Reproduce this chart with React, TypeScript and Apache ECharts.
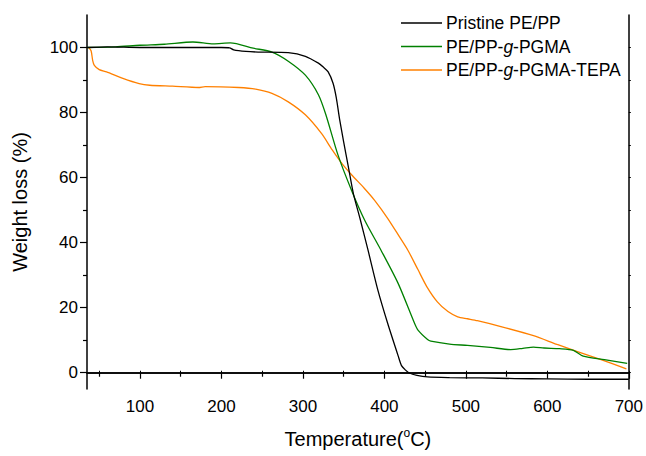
import React, { useEffect, useRef } from "react";
import * as echarts from "echarts";

const FONT = "Liberation Sans, Arial, sans-serif";

const seriesNames = ["Pristine PE/PP", "PE/PP-g-PGMA", "PE/PP-g-PGMA-TEPA"];
const seriesColors = ["#000000", "#008000", "#ff8000"];

const pristineT = [35, 60, 100, 150, 200, 210, 215, 230, 245, 282, 303, 319, 325, 331, 337, 341, 345, 350, 356, 362, 370, 380, 392, 404, 417, 421, 426, 430, 440, 453, 480, 520, 560, 600, 650, 700];
const pristineW = [100, 100.2, 100, 100, 100, 99.9, 99.3, 98.8, 98.6, 98.4, 97.3, 95.2, 94, 92.5, 89, 84.5, 78, 71, 63, 55, 47.5, 37.6, 25.4, 15.2, 5.1, 2.2, 0.8, 0, -0.8, -1.3, -1.5, -1.6, -1.8, -1.9, -2, -2];

const pgmaT = [35, 70, 100, 130, 165, 190, 211, 239, 262, 282, 303, 319, 328, 343, 360, 376, 396, 417, 437, 441, 453, 457, 480, 502, 530, 555, 570, 583, 596, 615, 632, 644, 670, 698];
const pgmaW = [100, 100.2, 100.7, 101, 101.7, 101.1, 101.4, 99.8, 98.6, 95.8, 91.5, 85.5, 79.5, 67, 55.9, 46.8, 37.6, 27.4, 15.2, 13.2, 10.2, 9.7, 8.8, 8.4, 7.8, 7.1, 7.5, 7.9, 7.6, 7.4, 6.9, 5.1, 4, 2.9];

const tepaT = [37, 40, 42, 44, 50, 59, 79, 99, 112, 140, 172, 180, 221, 242, 262, 282, 303, 323, 336, 348, 360, 375, 388, 404, 418, 429, 441, 452, 465, 478, 490, 502, 514, 543, 583, 612, 636, 665, 697];
const tepaW = [100, 99, 96, 94.5, 93.2, 92.5, 90.5, 88.9, 88.4, 88.1, 87.7, 88, 87.7, 87.2, 85.9, 83.3, 79.3, 73.5, 68.5, 64.3, 60.8, 56.8, 53, 47.5, 42, 37.6, 31.8, 26.5, 21.8, 18.8, 17.2, 16.6, 16.0, 14.2, 11.4, 8.7, 6.6, 4.1, 1.2];

const xMajorTicks = [100, 200, 300, 400, 500, 600, 700];
const xMinorTicks = [50, 150, 250, 350, 450, 550, 650];
const yMajorTicks = [0, 20, 40, 60, 80, 100];
const yMinorTicks = [10, 30, 50, 70, 90];

const X_MIN = 35;
const X_MAX = 700;
const Y_MIN = -5;
const Y_MAX = 110;

function pairs(t: number[], w: number[]) {
  return t.map((v, i) => [v, w[i]]);
}

export default function App() {
  const ref = useRef<HTMLDivElement>(null);
  useEffect(() => {
    if (!ref.current) return;
    const chart = echarts.init(ref.current, null, { renderer: "svg" });
    const axisLine = { show: true, lineStyle: { color: "#000", width: 1.5 } };
    const baseX = { type: "value", min: X_MIN, max: X_MAX, splitLine: { show: false } };
    const baseY = { type: "value", min: Y_MIN, max: Y_MAX, splitLine: { show: false } };
    const data = [pairs(pristineT, pristineW), pairs(pgmaT, pgmaW), pairs(tepaT, tepaW)];
    chart.setOption({
      animation: false,
      backgroundColor: "#fff",
      grid: { left: 87, top: 15, right: 14, bottom: 64, containLabel: false },
      legend: {
        show: true,
        orient: "vertical",
        left: 396,
        top: 9,
        icon: "rect",
        itemWidth: 41,
        itemHeight: 1.5,
        itemGap: 5.5,
        data: seriesNames,
        formatter: (name: string) => name.replace("-g-", "-{i|g}-"),
        textStyle: {
          fontFamily: FONT,
          fontSize: 17.5,
          color: "#000",
          padding: [0, 0, 0, -1],
          rich: { i: { fontStyle: "italic", fontFamily: FONT, fontSize: 17.5, color: "#000" } },
        },
      },
      xAxis: [
        {
          ...baseX,
          position: "bottom",
          axisLine,
          axisTick: { show: true, customValues: xMajorTicks, length: 6, lineStyle: { color: "#000", width: 1.2 } },
          axisLabel: { show: true, customValues: xMajorTicks, fontFamily: FONT, fontSize: 17, color: "#000", margin: 9 },
          name: "Temperature({sup|o}C)",
          nameLocation: "middle",
          nameGap: 38,
          nameTextStyle: {
            fontFamily: FONT,
            fontSize: 20,
            color: "#000",
            lineHeight: 24,
            rich: { sup: { fontSize: 12, fontFamily: FONT, color: "#000", verticalAlign: "top", lineHeight: 24 } },
          },
        },
        {
          ...baseX,
          position: "bottom",
          axisLine: { show: false },
          axisTick: { show: true, customValues: xMinorTicks, length: 4, lineStyle: { color: "#000", width: 1.2 } },
          axisLabel: { show: false },
        },
        {
          ...baseX,
          position: "top",
          axisLine,
          axisTick: { show: true, customValues: [...xMinorTicks, ...xMajorTicks], length: 2, lineStyle: { color: "#000", width: 1 } },
          axisLabel: { show: false },
        },
      ],
      yAxis: [
        {
          ...baseY,
          position: "left",
          axisLine,
          axisTick: { show: true, customValues: yMajorTicks, length: 7, lineStyle: { color: "#000", width: 1.2 } },
          axisLabel: { show: true, customValues: yMajorTicks, fontFamily: FONT, fontSize: 17, color: "#000", margin: 9 },
          name: "Weight loss (%)",
          nameLocation: "middle",
          nameGap: 57,
          nameTextStyle: { fontFamily: FONT, fontSize: 20, color: "#000" },
        },
        {
          ...baseY,
          position: "left",
          axisLine: { show: false },
          axisTick: { show: true, customValues: yMinorTicks, length: 4, lineStyle: { color: "#000", width: 1.2 } },
          axisLabel: { show: false },
        },
        {
          ...baseY,
          position: "right",
          axisLine,
          axisTick: { show: true, customValues: [...yMinorTicks, ...yMajorTicks], length: 2, lineStyle: { color: "#000", width: 1 } },
          axisLabel: { show: false },
        },
      ],
      series: seriesNames.map((name, i) => ({
        name,
        type: "line",
        xAxisIndex: 0,
        yAxisIndex: 0,
        data: data[i],
        symbol: "none",
        showSymbol: false,
        smooth: 0.25,
        color: seriesColors[i],
        lineStyle: { color: seriesColors[i], width: 1.3 },
        z: 3 - i,
      })),
    });
    return () => chart.dispose();
  }, []);
  return (
    <div
      ref={ref}
      style={{ position: "fixed", left: 0, top: 0, width: 646, height: 456, background: "#fff" }}
    />
  );
}
